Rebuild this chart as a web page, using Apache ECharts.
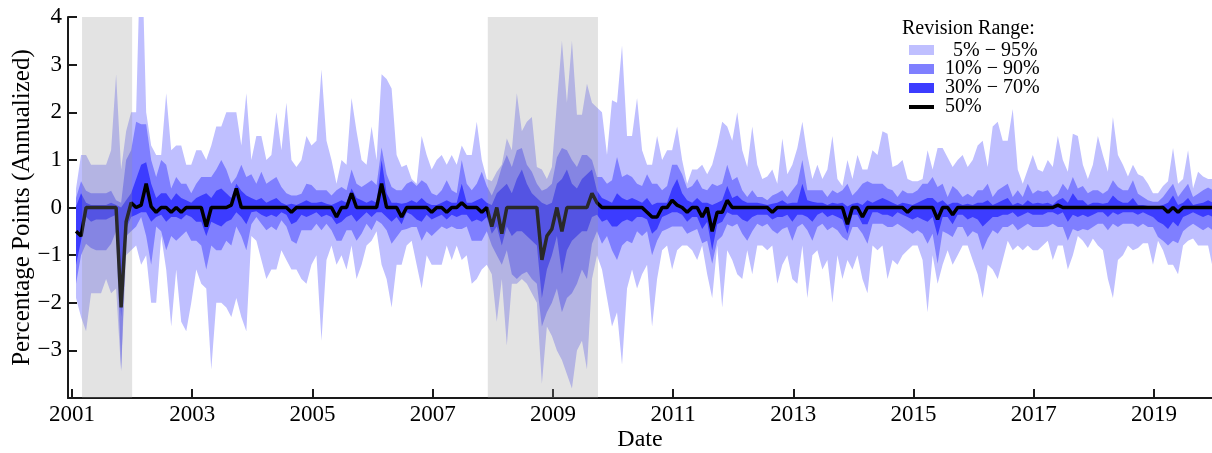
<!DOCTYPE html>
<html><head><meta charset="utf-8">
<script src="https://cdn.jsdelivr.net/npm/echarts@6/dist/echarts.min.js"></script>
<style>html,body{margin:0;padding:0;background:#fff}#c{width:1212px;height:453px}</style>
</head><body><div id="c"></div>
<script>
// ---- categories: monthly observations 2001-01 .. 2019-12 ----
const firstYear = 2001, lastYear = 2019;
const months = [];
for (let y = firstYear; y <= lastYear; y++) for (let m = 1; m <= 12; m++) months.push(y + '-' + String(m).padStart(2, '0'));

// ---- revision percentiles (percentage points, annualized), one row per year ----
const p95 = [
 0.4,1.1,1.1,0.9,0.9,0.9,0.9,1.2,2.8,0.8,1.6,2.0,
 2.0,6.0,2.0,1.3,1.1,1.1,2.4,1.2,1.3,1.3,0.9,0.9,
 1.2,1.2,1.0,1.3,1.7,1.7,2.0,2.0,2.0,1.3,2.4,1.0,
 1.5,1.5,1.0,1.1,2.0,1.2,2.2,1.0,0.85,1.0,1.5,1.3,
 1.4,2.9,1.4,1.0,0.5,1.0,0.9,2.3,1.6,1.0,0.9,1.7,
 1.0,2.8,2.7,2.5,1.1,0.85,0.9,0.6,0.5,1.5,1.1,0.8,
 1.0,1.1,0.9,1.1,0.9,1.3,1.1,1.1,1.8,1.0,0.6,0.55,
 0.75,0.9,1.45,1.2,2.4,1.6,1.8,1.9,0.85,0.8,0.6,0.85,
 2.2,3.5,2.2,3.5,1.95,1.95,2.6,2.2,2.1,2.0,1.1,2.25,
 2.2,3.4,1.5,1.5,2.3,1.2,0.9,0.9,1.5,1.0,1.2,1.2,
 1.7,1.0,0.5,0.8,0.8,0.9,0.7,0.9,1.3,1.8,1.7,1.4,
 2.0,1.2,0.85,1.7,0.9,0.6,0.65,0.8,0.5,1.45,0.7,0.9,
 1.25,1.8,1.1,0.6,0.9,0.6,0.8,1.5,0.6,0.45,1.0,0.6,
 1.1,0.8,0.8,1.2,1.1,1.6,1.55,0.85,0.9,1.0,0.6,0.55,
 0.55,0.6,1.2,0.8,1.25,1.25,1.05,0.85,1.0,1.1,0.85,1.0,
 1.3,1.4,0.85,1.7,1.8,1.4,1.4,2.07,0.8,0.5,0.8,1.1,
 0.8,0.75,1.0,0.85,1.5,1.0,0.75,1.55,1.5,0.9,0.6,0.9,
 1.5,1.1,0.75,1.9,1.1,0.9,0.65,0.9,0.7,0.65,0.5,0.3,
 0.3,0.45,0.55,1.25,0.5,0.6,1.2,0.4,0.75,0.65,0.6,0.6
];
const p90 = [
 0.2,0.55,0.35,0.3,0.3,0.3,0.3,0.35,0.15,0.1,1.0,1.2,
 1.8,1.75,1.75,1.0,0.64,1.0,0.9,0.4,0.64,0.5,0.5,0.3,
 0.5,0.64,0.64,0.64,0.8,1.0,0.8,0.5,0.64,0.9,0.64,0.7,
 0.5,0.75,0.5,0.57,0.64,0.43,0.3,0.25,0.25,0.29,0.5,0.47,
 0.36,0.36,0.36,0.25,0.36,0.43,0.36,0.8,0.5,0.43,0.5,0.57,
 0.47,1.26,0.7,0.43,0.36,0.36,0.5,0.55,0.45,0.57,0.5,0.3,
 0.25,0.36,0.57,0.36,0.3,1.0,0.5,0.36,0.5,0.75,0.45,0.25,
 0.5,0.85,1.1,0.85,1.2,1.25,0.9,0.75,0.5,0.35,0.4,0.5,
 1.05,1.25,1.2,1.0,0.85,1.1,1.1,1.0,0.64,0.64,0.5,0.57,
 1.06,0.64,0.7,0.64,0.5,0.45,0.7,0.5,0.5,0.36,0.45,0.9,
 0.9,0.7,0.4,0.45,0.6,0.4,0.36,0.5,0.45,0.5,0.9,0.57,
 0.64,0.36,0.22,0.36,0.22,0.22,0.15,0.25,0.3,0.36,0.22,0.36,
 0.5,1.0,0.36,0.36,0.36,0.36,0.22,0.36,0.3,0.36,0.5,0.25,
 0.36,0.5,0.55,0.5,0.5,0.5,0.4,0.36,0.22,0.36,0.3,0.3,
 0.36,0.5,0.5,0.64,0.43,0.5,0.22,0.45,0.36,0.22,0.29,0.22,
 0.36,0.36,0.5,0.22,0.36,0.43,0.5,0.22,0.36,0.22,0.5,0.29,
 0.36,0.33,0.36,0.22,0.29,0.5,0.36,0.64,0.4,0.45,0.3,0.36,
 0.36,0.29,0.36,0.57,0.43,0.36,0.36,0.57,0.29,0.22,0.15,0.12,
 0.12,0.22,0.36,0.5,0.22,0.36,0.5,0.22,0.29,0.36,0.42,0.36
];
const p70 = [
 0.02,0.3,0.1,0.05,0.05,0.05,0.05,0.1,0.05,0,0.15,0.3,
 0.6,0.9,0.95,0.5,0.2,0.3,0.3,0.15,0.3,0.2,0.15,0.1,
 0.2,0.25,0.3,0.2,0.35,0.4,0.3,0.2,0.5,0.35,0.25,0.2,
 0.15,0.2,0.1,0.15,0.2,0.1,0.05,0.08,0.05,0.1,0.15,0.1,
 0.1,0.12,0.08,0.05,0.1,0.15,0.1,0.4,0.2,0.15,0.1,0.15,
 0.1,1.0,0.3,0.1,0.1,0.08,0.1,0.15,0.1,0.2,0.1,0.05,
 0.05,0.1,0.15,0.1,0.1,0.5,0.1,0.1,0.15,0.2,0.1,0.05,
 0.3,0.4,0.5,0.3,0.6,0.8,0.5,0.3,0.2,0.1,0.05,0.1,
 0.5,0.6,0.8,0.5,0.4,0.6,0.7,0.8,0.35,0.2,0.15,0.1,
 0.3,0.2,0.15,0.2,0.15,0.1,0.2,0.05,0.1,0.1,0.1,0.4,
 0.6,0.3,0.15,0.1,0.2,0.1,0.1,0.05,0.1,0.15,0.45,0.2,
 0.25,0.15,0.1,0.1,0.1,0.08,0.05,0.08,0.1,0.15,0.08,0.1,
 0.1,0.5,0.15,0.12,0.1,0.1,0.05,0.1,0.08,0.1,0.02,0.08,
 0.1,0.05,0.15,0.1,0.15,0.2,0.15,0.1,0.05,0.1,0.08,0.05,
 0.1,0.15,0.2,0.2,0.1,0.15,0.05,0.1,0.1,0.05,0.08,0.05,
 0.1,0.1,0.15,0.05,0.1,0.15,0.2,0.05,0.1,0.05,0.15,0.08,
 0.1,0.08,0.1,0.05,0.15,0.2,0.1,0.3,0.15,0.15,0.05,0.1,
 0.1,0.08,0.1,0.25,0.15,0.1,0.1,0.2,0.05,0.05,0.03,0.02,
 0.02,0.05,0.1,0.25,0.05,0.1,0.2,0.05,0.08,0.1,0.15,0.1
];
const p50 = [
 -0.5,-0.6,0,0,0,0,0,0,0,-2.1,-0.3,0.1,
 0,0.05,0.5,0.02,-0.1,0,0,-0.1,0,-0.1,0,0,
 0,0,-0.4,0,0,0,0,0.05,0.4,0,0,0,
 0,0,0,0,0,0,0,-0.1,0,0,0,0,
 0,0,0,0,-0.2,0,0,0.3,0,0,0,0,
 0,0.5,0,0,0,-0.2,0,0,0,0,0,-0.1,
 0,0,-0.1,0,0,0.1,0,0,0,-0.1,0,-0.4,
 0,-0.55,0,0,0,0,0,0,0,-1.1,-0.6,-0.45,
 0,-0.5,0,0,0,0,0,0.3,0.1,0,0,0,
 0,0,0,0,0,0,-0.1,-0.2,-0.2,0,0,0.15,
 0.05,0,-0.1,0,0,-0.2,0,-0.5,-0.1,-0.1,0.15,0,
 0,0,0,0,0,0,0,-0.1,0,0,0,0,
 0,0,0,0,0,0,0,0,0,0,-0.35,0,
 0,-0.2,0,0,0,0,0,0,0,0,-0.1,0,
 0,0,0,0,-0.25,0,0,-0.15,0,0,0,0,
 0,0,0,0,0,0,0,0,0,0,0,0,
 0,0,0,0,0.05,0,0,0,0,0,0,0,
 0,0,0,0,0,0,0,0,0,0,0,0,
 0,0,-0.1,0,-0.1,0,0,0,0,0,0,0
];
const p30 = [
 -1.2,-0.7,-0.2,-0.3,-0.25,-0.25,-0.25,-0.2,-0.15,-2.3,-0.45,-0.2,
 -0.15,-0.1,-0.1,-0.3,-0.2,-0.15,-0.3,-0.2,-0.2,-0.25,-0.15,-0.2,
 -0.3,-0.3,-0.6,-0.3,-0.35,-0.4,-0.3,-0.25,-0.1,-0.2,-0.35,-0.1,
 -0.08,-0.15,-0.2,-0.15,-0.2,-0.1,-0.15,-0.35,-0.3,-0.15,-0.2,-0.15,
 -0.1,-0.2,-0.15,-0.2,-0.35,-0.3,-0.2,-0.15,-0.3,-0.2,-0.1,-0.2,
 -0.1,-0.1,-0.2,-0.3,-0.2,-0.35,-0.1,-0.15,-0.25,-0.3,-0.15,-0.25,
 -0.2,-0.15,-0.25,-0.15,-0.2,-0.15,-0.15,-0.3,-0.25,-0.3,-0.2,-0.55,
 -0.4,-0.8,-0.4,-0.6,-0.5,-0.5,-0.6,-0.7,-0.8,-1.9,-1.3,-1.0,
 -0.6,-1.4,-0.9,-0.7,-0.6,-0.5,-0.5,-0.2,-0.15,-0.3,-0.25,-0.4,
 -0.4,-0.3,-0.25,-0.3,-0.2,-0.2,-0.25,-0.55,-0.45,-0.2,-0.15,-0.1,
 -0.1,-0.15,-0.3,-0.2,-0.2,-0.45,-0.3,-0.9,-0.35,-0.3,-0.1,-0.15,
 -0.15,-0.25,-0.3,-0.2,-0.15,-0.15,-0.15,-0.25,-0.2,-0.2,-0.15,-0.3,
 -0.15,-0.15,-0.2,-0.3,-0.15,-0.1,-0.2,-0.15,-0.2,-0.25,-0.55,-0.15,
 -0.15,-0.35,-0.35,-0.1,-0.1,-0.15,-0.15,-0.2,-0.1,-0.15,-0.2,-0.25,
 -0.2,-0.25,-0.3,-0.2,-0.6,-0.2,-0.2,-0.35,-0.15,-0.15,-0.25,-0.2,
 -0.25,-0.4,-0.3,-0.2,-0.2,-0.15,-0.15,-0.1,-0.2,-0.15,-0.1,-0.15,
 -0.15,-0.15,-0.1,-0.1,-0.15,-0.1,-0.3,-0.15,-0.2,-0.15,-0.2,-0.15,
 -0.1,-0.1,-0.2,-0.1,-0.15,-0.1,-0.1,-0.1,-0.15,-0.1,-0.15,-0.2,
 -0.3,-0.35,-0.45,-0.3,-0.4,-0.2,-0.15,-0.1,-0.15,-0.2,-0.15,-0.2
];
const p10 = [
 -1.6,-1.0,-0.76,-0.85,-0.9,-0.9,-0.9,-0.76,-0.5,-3.4,-0.6,-0.5,
 -0.4,-0.2,-0.6,-1.2,-0.4,-0.5,-0.9,-0.6,-0.7,-0.6,-0.5,-0.7,
 -0.7,-0.8,-1.3,-0.8,-0.9,-0.9,-0.7,-0.8,-0.4,-0.6,-0.9,-0.35,
 -0.2,-0.34,-0.48,-0.4,-0.48,-0.27,-0.4,-0.7,-0.76,-0.48,-0.48,-0.48,
 -0.34,-0.48,-0.34,-0.48,-0.7,-0.7,-0.48,-0.48,-0.7,-0.55,-0.34,-0.48,
 -0.27,-0.34,-0.48,-0.76,-0.62,-0.48,-0.45,-0.41,-0.41,-0.7,-0.5,-0.6,
 -0.5,-0.4,-0.45,-0.4,-0.45,-0.45,-0.4,-0.7,-0.7,-0.7,-0.5,-0.8,
 -1.0,-1.2,-0.9,-1.4,-1.5,-1.4,-1.35,-1.5,-1.6,-2.5,-2.2,-2.0,
 -1.7,-2.2,-1.9,-1.8,-1.6,-1.3,-1.5,-0.76,-0.5,-0.76,-0.6,-0.9,
 -1.1,-0.8,-0.7,-0.75,-0.5,-0.6,-0.5,-1.0,-0.7,-0.5,-0.45,-0.4,
 -0.4,-0.4,-0.55,-0.5,-0.45,-0.75,-0.7,-1.18,-0.7,-0.6,-0.35,-0.4,
 -0.34,-0.55,-0.7,-0.5,-0.34,-0.4,-0.34,-0.48,-0.55,-0.45,-0.41,-0.7,
 -0.41,-0.34,-0.48,-0.7,-0.41,-0.34,-0.48,-0.41,-0.48,-0.62,-0.7,-0.41,
 -0.41,-0.55,-0.76,-0.34,-0.34,-0.34,-0.41,-0.41,-0.34,-0.41,-0.48,-0.55,
 -0.48,-0.55,-0.76,-0.55,-1.18,-0.5,-0.55,-0.62,-0.41,-0.41,-0.62,-0.5,
 -0.55,-0.9,-0.65,-0.48,-0.55,-0.41,-0.41,-0.34,-0.48,-0.41,-0.34,-0.41,
 -0.41,-0.41,-0.4,-0.34,-0.41,-0.41,-0.7,-0.45,-0.5,-0.45,-0.48,-0.41,
 -0.34,-0.34,-0.48,-0.34,-0.41,-0.34,-0.34,-0.34,-0.41,-0.34,-0.41,-0.41,
 -0.62,-0.7,-0.8,-0.7,-0.75,-0.5,-0.41,-0.34,-0.41,-0.48,-0.41,-0.48
];
const p05 = [
 -1.9,-2.3,-2.6,-1.8,-1.8,-1.8,-1.5,-1.8,-1.7,-3.45,-1.0,-0.9,
 -0.8,-1.2,-1.0,-2.0,-2.0,-0.6,-1.3,-2.5,-1.3,-2.4,-2.6,-2.0,
 -1.3,-1.6,-1.7,-3.4,-2.0,-2.0,-2.1,-2.3,-1.9,-2.3,-2.6,-0.6,
 -0.7,-1.1,-1.5,-1.3,-1.3,-0.9,-1.1,-1.3,-1.3,-1.5,-1.6,-1.2,
 -1.0,-2.8,-1.1,-0.8,-1.2,-1.0,-1.3,-0.8,-1.5,-1.2,-0.8,-0.7,
 -0.5,-1.2,-1.5,-2.1,-1.2,-1.2,-0.8,-0.7,-1.2,-1.7,-1.0,-1.2,
 -1.2,-1.2,-0.8,-1.1,-0.8,-1.1,-1.0,-1.6,-1.5,-1.3,-1.2,-1.4,
 -2.4,-1.5,-2.9,-1.6,-1.6,-1.5,-1.6,-1.8,-2.0,-3.7,-2.5,-2.7,
 -3.0,-3.2,-3.5,-3.8,-3.0,-2.8,-3.4,-1.5,-1.0,-1.3,-1.9,-2.5,
 -2.2,-3.3,-1.7,-1.3,-1.7,-1.4,-1.2,-2.5,-1.5,-0.9,-0.8,-1.3,
 -0.9,-0.8,-0.8,-0.9,-1.1,-0.8,-1.4,-1.9,-0.8,-2.1,-0.9,-1.1,
 -1.4,-1.5,-0.9,-1.4,-0.8,-0.8,-0.9,-0.8,-1.6,-1.2,-1.0,-1.5,
 -1.6,-0.8,-1.9,-1.0,-0.9,-1.3,-1.1,-2.0,-1.0,-1.5,-1.1,-1.3,
 -1.0,-1.5,-1.8,-0.8,-0.9,-0.8,-1.5,-1.1,-1.2,-1.0,-0.9,-0.8,
 -0.8,-1.1,-2.2,-1.0,-1.6,-1.2,-0.9,-1.2,-1.0,-0.8,-0.8,-1.1,
 -1.4,-1.9,-1.2,-1.3,-1.5,-1.1,-0.7,-0.9,-0.8,-0.9,-0.8,-0.9,
 -0.9,-0.8,-0.7,-1.1,-0.8,-0.8,-1.3,-1.0,-0.6,-0.7,-0.85,-0.65,
 -0.8,-0.9,-1.5,-1.9,-1.1,-1.0,-0.8,-0.9,-0.85,-0.75,-0.75,-1.2,
 -0.7,-0.9,-1.2,-1.2,-1.4,-0.8,-0.7,-0.65,-0.8,-0.8,-0.8,-1.3
];

// ---- axis ticks, recessions, legend texts ----
const xTicks = [2001, 2003, 2005, 2007, 2009, 2011, 2013, 2015, 2017, 2019];
const recessions = [['2001-03', '2002-01'], ['2007-12', '2009-10']];
const legendTitle = 'Revision Range:';
const legendLabels = ['5% \u2212 95%', '10% \u2212 90%', '30% \u2212 70%', '50%'];

const FONT = '"Liberation Serif", "DejaVu Serif", serif';
const COLORS = ['#bfbfff', '#7f7fff', '#3c3cff'];

function monthPos(s) { const [y, m] = s.split('-').map(Number); return y + (m - 1 + 0.8) / 12; }
function monthStart(s) { const [y, m] = s.split('-').map(Number); return y + (m - 1) / 12; }
const xs = months.map(monthPos);
const pairs = a => a.map((v, i) => [xs[i], v]);

const bands = [[p05, p95], [p10, p90], [p30, p70]];
const series = [];
// percentile bands: polygons built through the axis scales (api.coord)
series.push({
  type: 'custom', z: 2, silent: true, animation: false,
  data: bands.map((b, k) => [xs[0], k]),
  renderItem: function (params, api) {
    const [lo, hi] = bands[params.dataIndex];
    const pts = [];
    for (let i = 0; i < xs.length; i++) pts.push(api.coord([xs[i], hi[i]]));
    for (let i = xs.length - 1; i >= 0; i--) pts.push(api.coord([xs[i], lo[i]]));
    const cs = params.coordSys;
    return {
      type: 'polygon', shape: { points: pts },
      style: { fill: COLORS[params.dataIndex] },
      clipPath: { type: 'rect', shape: { x: cs.x, y: cs.y, width: cs.width, height: cs.height } }
    };
  }
});
series.push({ type: 'line', data: pairs(p50), symbol: 'none', lineStyle: { color: '#000', width: 3.5 }, z: 6, animation: false });
// recession shading drawn on top of the bands and the median line
series.push({
  type: 'custom', z: 9, silent: true, animation: false,
  data: recessions.map(r => [monthStart(r[0]), monthStart(r[1])]),
  renderItem: function (params, api) {
    const a = api.coord([api.value(0), 4]);
    const b = api.coord([api.value(1), -4]);
    return { type: 'rect', shape: { x: a[0], y: a[1], width: b[0] - a[0], height: b[1] - a[1] },
      style: { fill: 'rgba(150,150,150,0.27)' } };
  }
});

const axisCol = '#1a1a1a';
const chart = echarts.init(document.getElementById('c'), null, { renderer: 'canvas' });
const lx = 909, ly = [45, 64, 83];
chart.setOption({
  animation: false,
  backgroundColor: '#fff',
  grid: { left: 68, right: 0, top: 17, bottom: 55, containLabel: false, outerBoundsMode: 'none' },
  xAxis: {
    type: 'value', min: 2000.933, max: 2019.965,
    axisLine: { show: true, onZero: false, lineStyle: { color: axisCol, width: 2 } },
    axisTick: { show: true, inside: true, length: 9, lineStyle: { color: axisCol, width: 2 }, customValues: xTicks },
    axisLabel: { customValues: xTicks, fontFamily: FONT, fontSize: 23, color: '#000', margin: 5, formatter: v => String(v) },
    splitLine: { show: false },
    name: 'Date', nameLocation: 'middle', nameGap: 30, nameMoveOverlap: false,
    nameTextStyle: { fontFamily: FONT, fontSize: 24, color: '#000' }
  },
  yAxis: {
    type: 'value', min: -4, max: 4, interval: 1,
    axisLine: { show: true, onZero: false, lineStyle: { color: axisCol, width: 2 } },
    axisTick: { show: true, inside: true, length: 9, lineStyle: { color: axisCol, width: 2 } },
    axisLabel: { fontFamily: FONT, fontSize: 23, color: '#000', margin: 6,
      formatter: v => v === -4 ? '' : (v < 0 ? '\u2212' + Math.abs(v) : String(v)) },
    splitLine: { show: false },
    name: 'Percentage Points (Annualized)', nameLocation: 'middle', nameGap: 33, nameRotate: 90, nameMoveOverlap: false,
    nameTextStyle: { fontFamily: FONT, fontSize: 25, color: '#000' }
  },
  series: series,
  graphic: [
    { type: 'text', left: 902, top: 19, style: { text: legendTitle, font: '20px ' + FONT, fill: '#000' } },
    { type: 'rect', shape: { x: lx, y: ly[0], width: 25, height: 10 }, style: { fill: COLORS[0] } },
    { type: 'rect', shape: { x: lx, y: ly[1], width: 25, height: 10 }, style: { fill: COLORS[1] } },
    { type: 'rect', shape: { x: lx, y: ly[2], width: 25, height: 10 }, style: { fill: COLORS[2] } },
    { type: 'rect', shape: { x: lx, y: 105, width: 25, height: 4 }, style: { fill: '#000' } },
    { type: 'text', x: 953, y: 51, style: { text: legendLabels[0], font: '20px ' + FONT, fill: '#000', textVerticalAlign: 'middle' } },
    { type: 'text', x: 945, y: 69, style: { text: legendLabels[1], font: '20px ' + FONT, fill: '#000', textVerticalAlign: 'middle' } },
    { type: 'text', x: 945, y: 88, style: { text: legendLabels[2], font: '20px ' + FONT, fill: '#000', textVerticalAlign: 'middle' } },
    { type: 'text', x: 945, y: 107, style: { text: legendLabels[3], font: '20px ' + FONT, fill: '#000', textVerticalAlign: 'middle' } }
  ]
});
</script></body></html>
